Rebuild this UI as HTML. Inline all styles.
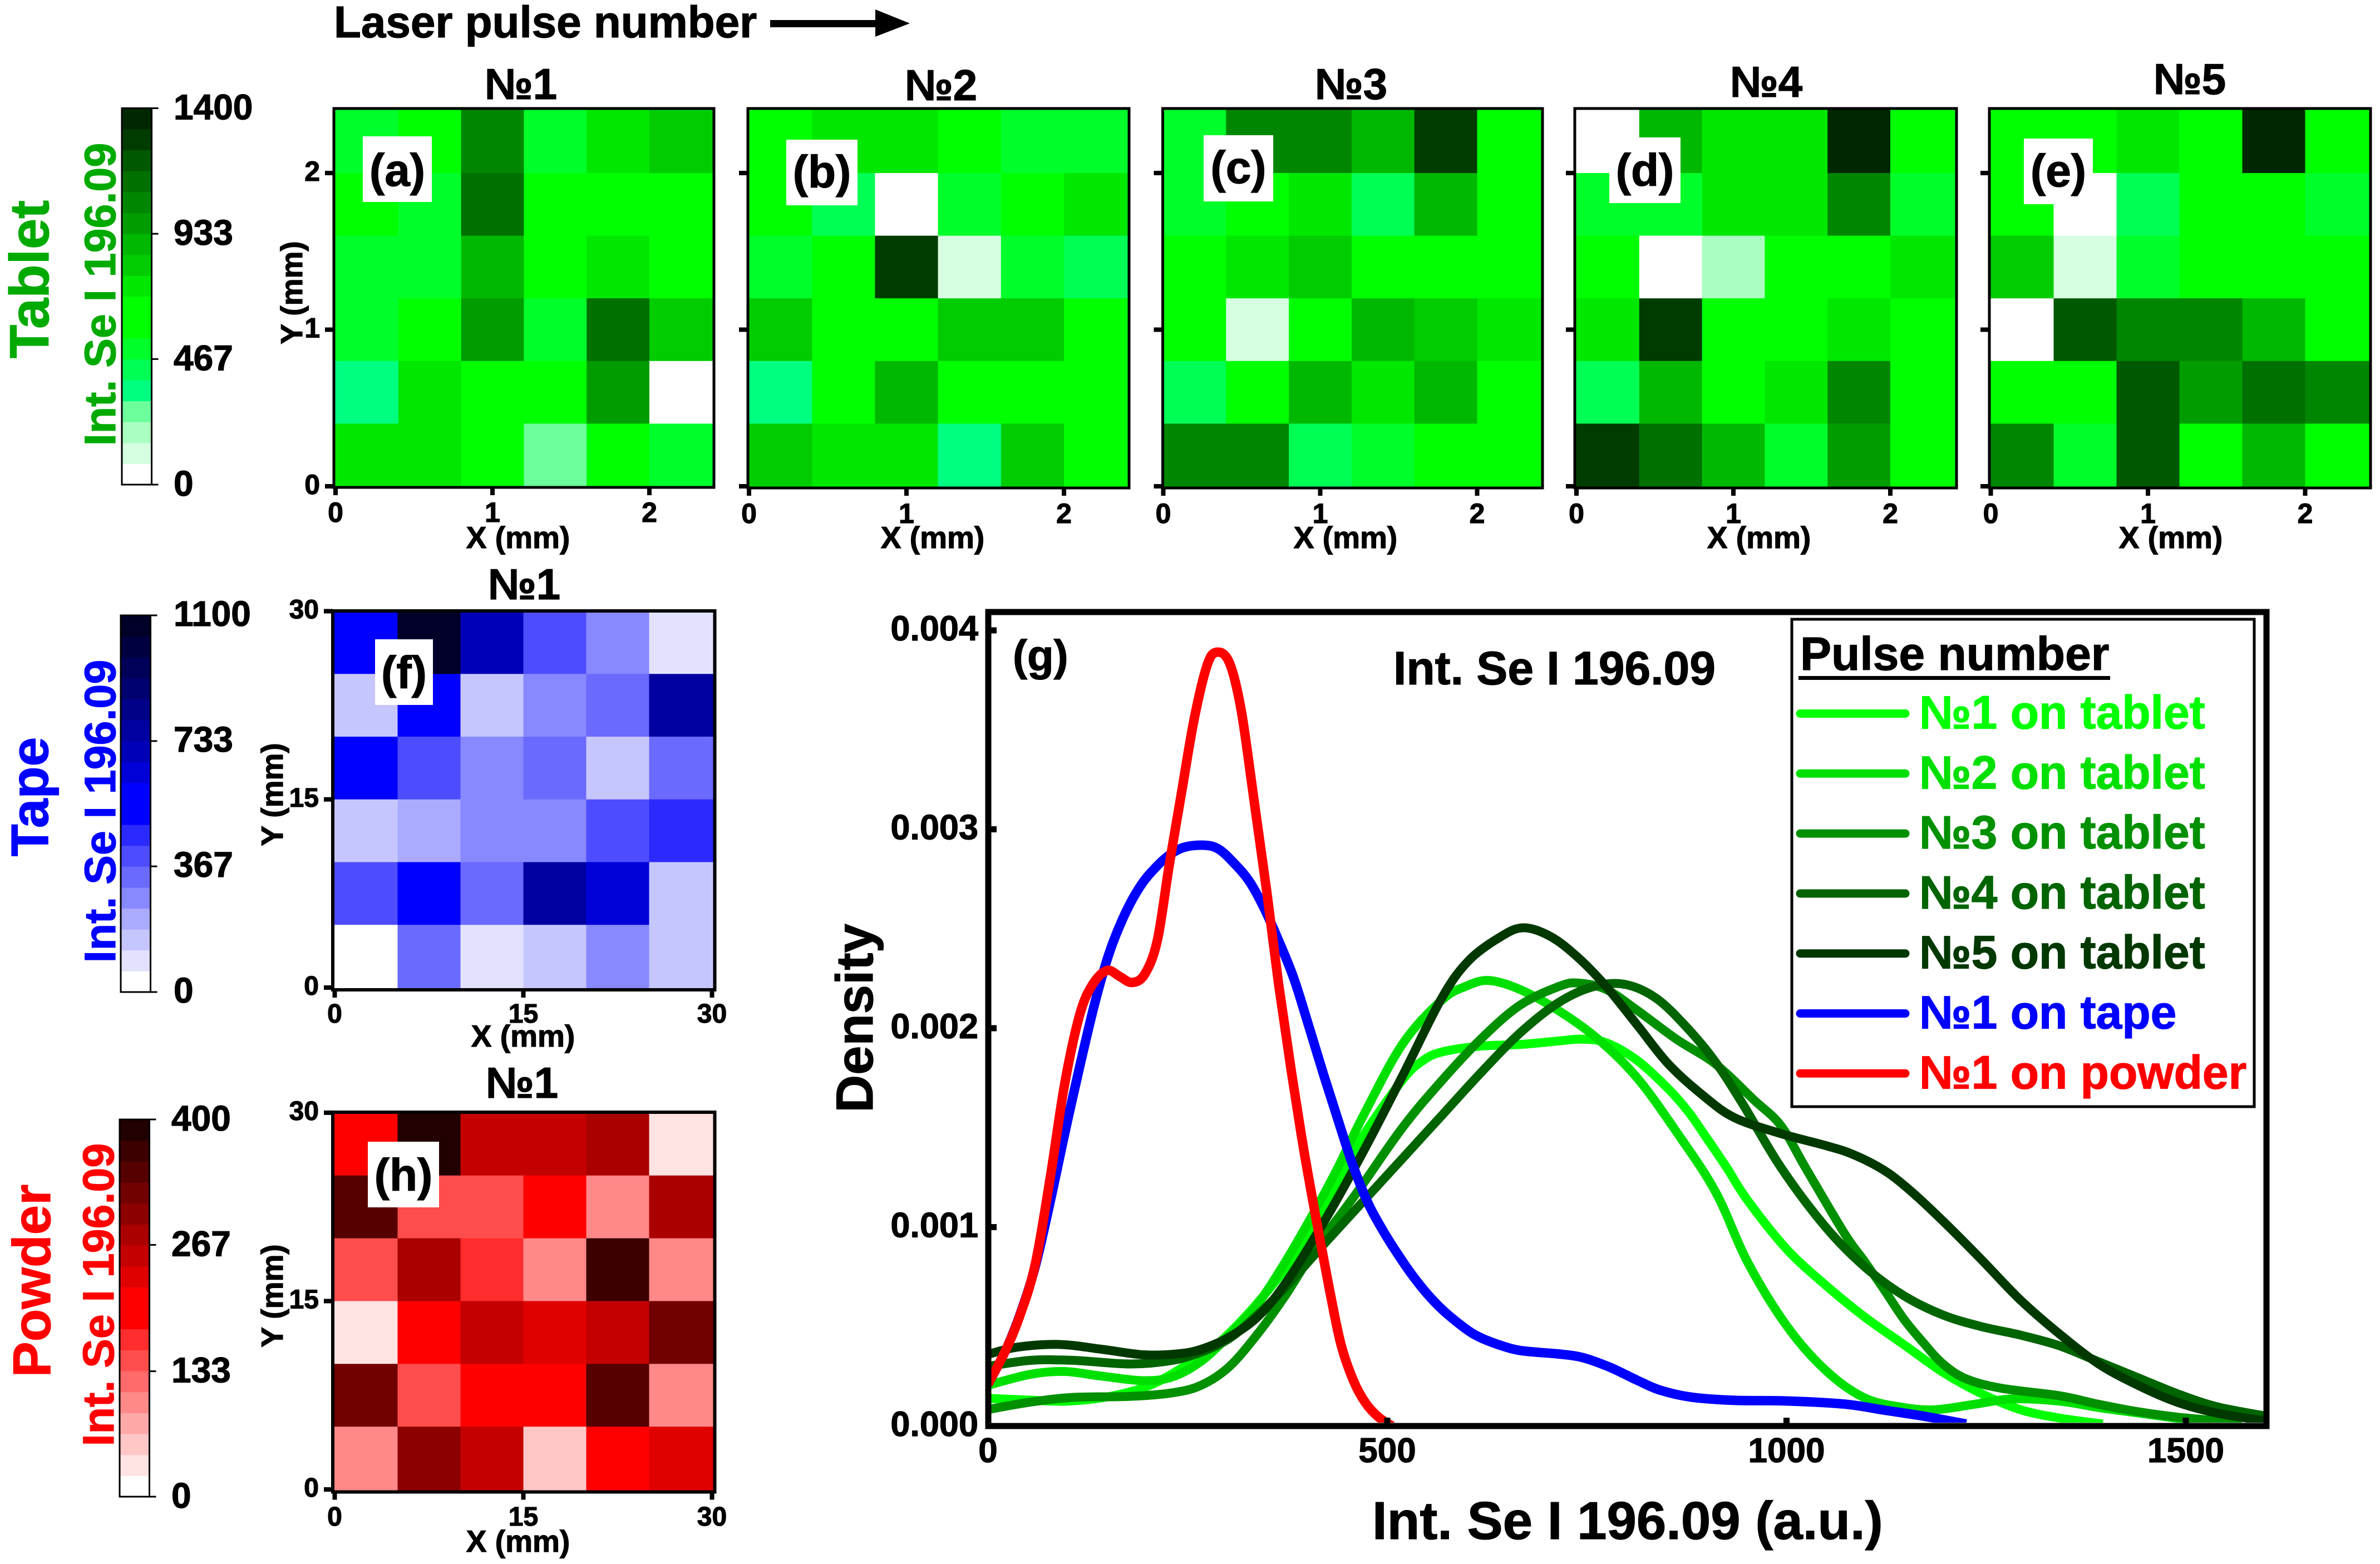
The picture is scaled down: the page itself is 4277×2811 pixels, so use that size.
<!DOCTYPE html>
<html lang="en">
<head>
<meta charset="utf-8">
<title>Int. Se I 196.09 maps and density</title>
<style>
html,body{margin:0;padding:0;background:#fff;}
svg{display:block;}
text{font-family:"Liberation Sans","DejaVu Sans",sans-serif;font-weight:bold;}
</style>
</head>
<body>
<svg id="figure" xmlns="http://www.w3.org/2000/svg" width="4277" height="2811" viewBox="0 0 4277 2811">
<rect x="0" y="0" width="4277" height="2811" fill="#ffffff"/>
<text x="600" y="67" font-size="80" fill="#000" stroke="#000" stroke-width="1.2">Laser pulse number</text>
<rect x="1384" y="36" width="192" height="13" fill="#000"/>
<polygon points="1573,17 1635,42 1573,66" fill="#000"/>
</svg>
<script>
// ---- Heatmap values (Int. Se I 196.09), top row first ----
const tabletMax = 1400, tapeMax = 1100, powderMax = 400;
const tablet1Cells = [
  [506,661,1050,506,739,817],
  [661,506,1128,583,661,661],
  [506,506,894,661,739,661],
  [506,661,972,506,1128,817],
  [350,739,661,661,972,39],
  [739,739,661,272,661,506]];
const tablet2Cells = [
  [661,739,739,661,506,506],
  [661,428,39,506,661,739],
  [506,661,1283,117,506,428],
  [817,661,661,817,817,661],
  [350,661,894,661,661,661],
  [817,739,739,350,817,661]];
const tablet3Cells = [
  [506,1050,1050,894,1283,661],
  [506,661,739,428,894,661],
  [661,739,817,661,661,661],
  [661,117,661,894,817,739],
  [428,661,894,739,894,661],
  [1050,1050,428,506,661,661]];
const tablet4Cells = [
  [39,894,739,739,1361,661],
  [506,506,739,739,1050,506],
  [661,39,194,661,661,739],
  [739,1283,661,661,739,661],
  [428,894,661,739,1050,661],
  [1283,1128,894,506,972,661]];
const tablet5Cells = [
  [661,661,739,661,1361,661],
  [661,39,428,661,661,506],
  [817,117,506,661,661,661],
  [39,1206,1050,1050,894,661],
  [661,661,1206,972,1128,1050],
  [1050,506,1206,661,894,661]];
const tapeCells = [
  [520,1070,703,397,275,92],
  [153,520,153,275,336,764],
  [520,397,275,336,153,336],
  [153,214,275,275,397,458],
  [397,520,336,764,642,153],
  [31,336,92,153,275,153]];
const powderCells = [
  [189,389,256,256,278,33],
  [344,144,144,189,100,278],
  [144,278,167,100,367,100],
  [33,189,256,233,256,322],
  [322,144,189,189,344,100],
  [100,300,256,56,189,233]];

// ---- Colour scales, lowest band first ----
const greenBands = ['#ffffff','#d5ffe0','#aaffc0','#6cff9c','#00ff80','#00ff55','#00ff2a','#00ff00','#00ff00','#00e800','#00cc00','#00b800','#009c00','#008600','#007000','#005800','#003c00','#002800'];
const blueBands = ['#ffffff','#e2e2ff','#c6c6ff','#aaaaff','#8888ff','#6a6aff','#4d4dff','#2a2aff','#0000ff','#0000ff','#0000d8','#0000b8','#0000a0','#000088','#000070','#000058','#000040','#000028'];
const redBands = ['#ffffff','#ffe2e2','#ffc6c6','#ffa8a8','#ff8888','#ff6a6a','#ff4d4d','#ff2d2d','#ff0000','#ff0000','#e00000','#c40000','#aa0000','#8c0000','#720000','#560000','#3c0000','#220000'];

// ---- Tick labels ----
const tabletBarTicks = [0,467,933,1400];
const tapeBarTicks = [0,367,733,1100];
const powderBarTicks = [0,133,267,400];
const tabletMapTicks = [0,1,2];
const wideMapTicks = [0,15,30];
const densityXTicks = [0,500,1000,1500];
const densityYTicks = [0,1,2,3,4]; // thousandths of density

// ---- Density curves: intensity (a.u.) and density in thousandths ----
const tablet1X = [0,53,100,153,203,249,284,320,356,391,426,444,470,519,544,568,617,666,715,744,774,813,852,878,902,925,951,1000,1049,1098,1147,1196,1244,1293,1342,1396];
const tablet1Y = [.139,.13,.125,.149,.205,.307,.40,.54,.708,.894,1.12,1.26,1.46,1.74,1.835,1.88,1.91,1.918,1.936,1.945,1.927,1.838,1.695,1.575,1.436,1.30,1.136,.89,.708,.548,.409,.27,.163,.082,.04,.01];
const tablet2X = [0,53,96,142,195,231,267,302,338,373,409,437,470,519,568,598,627,666,715,764,813,862,911,951,1000,1049,1098,1147,1186,1235,1283,1342,1391,1440,1499,1538,1570];
const tablet2Y = [.205,.26,.274,.251,.228,.247,.326,.456,.615,.83,1.08,1.29,1.56,1.92,2.14,2.21,2.24,2.195,2.087,1.945,1.75,1.48,1.178,.826,.505,.28,.141,.093,.082,.109,.136,.125,.093,.066,.034,.018,.005];
const tablet3X = [0,53,107,178,231,267,302,338,373,409,462,519,568,617,666,715,739,774,813,862,911,959,993,1024,1073,1098,1122,1147,1171,1196,1225,1269,1342,1391,1440,1489,1545,1570];
const tablet3Y = [.083,.12,.144,.149,.167,.205,.298,.465,.66,.885,1.174,1.50,1.735,1.945,2.115,2.21,2.227,2.195,2.09,1.945,1.82,1.64,1.51,1.297,.965,.826,.687,.537,.42,.312,.237,.19,.152,.109,.072,.045,.024,.01];
const tablet4X = [0,53,107,178,231,267,302,338,373,422,470,519,568,617,666,715,759,798,837,876,911,945,993,1049,1098,1147,1196,1244,1293,1342,1391,1440,1489,1538,1600];
const tablet4Y = [.30,.33,.33,.312,.33,.372,.44,.56,.70,.92,1.13,1.345,1.56,1.775,1.975,2.13,2.21,2.22,2.15,2.0,1.83,1.62,1.30,1.0,.80,.655,.558,.50,.457,.403,.323,.243,.163,.098,.05];
const tablet5X = [0,36,89,142,195,238,267,302,338,373,422,470,519,568,602,642,671,705,739,774,813,852,896,935,993,1049,1083,1122,1156,1196,1244,1293,1342,1391,1440,1489,1538,1600];
const tablet5Y = [.36,.396,.41,.386,.358,.363,.386,.447,.55,.72,1.035,1.38,1.76,2.15,2.34,2.46,2.505,2.46,2.355,2.21,2.016,1.82,1.66,1.55,1.47,1.41,1.366,1.286,1.18,1.03,.837,.633,.462,.312,.205,.12,.066,.025];
const tapeX = [0,22,40,59,78,96,115,134,152,171,190,208,227,246,271,289,308,327,345,364,383,401,420,439,457,476,495,513,532,551,569,588,607,625,650,666,690,715,744,779,813,842,881,935,1000,1073,1122,1171,1225];
const tapeY = [.21,.38,.56,.80,1.13,1.47,1.81,2.13,2.38,2.57,2.71,2.80,2.87,2.91,2.92,2.90,2.83,2.74,2.61,2.44,2.25,2.02,1.77,1.53,1.31,1.12,.98,.865,.755,.66,.585,.52,.465,.43,.395,.38,.37,.362,.345,.295,.23,.18,.145,.129,.126,.11,.08,.05,.01];
const powderX = [0,22,40,59,78,96,115,131,149,165,180,196,212,227,243,258,274,286,302,317,333,349,364,380,395,411,427,442,458,473,489,506];
const powderY = [.21,.38,.556,.81,1.25,1.72,2.07,2.22,2.29,2.26,2.23,2.27,2.44,2.82,3.2,3.55,3.82,3.89,3.84,3.6,3.15,2.69,2.22,1.78,1.40,1.04,.70,.41,.225,.115,.045,0];
const seriesNames = ['№1 on tablet','№2 on tablet','№3 on tablet','№4 on tablet','№5 on tablet','№1 on tape','№1 on powder'];

// ---- Drawing ----
const NS = 'http://www.w3.org/2000/svg';
const fig = document.getElementById('figure');

function mk(tag, attrs, parent) {
  const el = document.createElementNS(NS, tag);
  for (const k in attrs) el.setAttribute(k, attrs[k]);
  (parent || fig).appendChild(el);
  return el;
}
function txt(str, x, y, size, fill, anchor, rotate) {
  const a = {x: x, y: y, 'font-size': size, fill: fill || '#000', stroke: fill || '#000', 'stroke-width': 1.2, 'text-anchor': anchor || 'start'};
  if (rotate) a.transform = 'rotate(-90 ' + x + ' ' + y + ')';
  const el = mk('text', a);
  el.textContent = str;
  return el;
}
function bandColor(bands, max, v) {
  const i = Math.max(0, Math.min(bands.length - 1, Math.floor(v / max * bands.length)));
  return bands[i];
}

function drawColorbar(o) {
  const yOf = v => o.bottom - v / o.max * (o.bottom - o.top);
  o.bands.forEach((c, i) => {
    const step = o.max / o.bands.length;
    const r = mk('rect', {x: o.left, y: yOf((i + 1) * step), width: o.right - o.left, height: yOf(i * step) - yOf((i + 1) * step) + 0.5, fill: c});
    
    
  });
  const f = mk('rect', {x: o.left, y: o.top, width: o.right - o.left, height: o.bottom - o.top, fill: 'none', stroke: '#000', 'stroke-width': 3});
  
  
  o.ticks.forEach(v => {
    const l = mk('line', {x1: o.right, x2: o.right + 12, y1: yOf(v), y2: yOf(v), stroke: '#000', 'stroke-width': 3});
    
    
    const t = txt(String(v), o.labelX, yOf(v) + o.labelDy, 64);
    
    
  });
  const n = txt(o.name, o.nameX, o.nameY, o.nameSize, o.color, 'middle', true);
  
  
  const a = txt('Int. Se I 196.09', o.axisX, o.axisY, 79, o.color, 'middle', true);
  
  
}

function drawMap(p) {
  const X = v => p.xZero + v * p.xUnit;
  const Y = v => p.yZero - v * p.yUnit;
  const rows = p.cells.length, cols = p.cells[0].length;
  const dx = p.span / cols, dy = p.span / rows;
  p.cells.forEach((row, j) => {
    row.forEach((v, i) => {
      const x1 = i === 0 ? p.l : X(i * dx);
      const x2 = i === cols - 1 ? p.r : X((i + 1) * dx);
      const y1 = j === 0 ? p.t : Y(p.span - j * dy);
      const y2 = j === rows - 1 ? p.b : Y(p.span - (j + 1) * dy);
      const r = mk('rect', {x: x1, y: y1, width: x2 - x1 + 0.5, height: y2 - y1 + 0.5, fill: bandColor(p.bands, p.max, v)});
      
      
    });
  });
  const fr = mk('rect', {x: p.l, y: p.t, width: p.r - p.l, height: p.b - p.t, fill: 'none', stroke: '#000', 'stroke-width': p.sw});
  
  
  p.ticks.forEach(v => {
    const tx = mk('rect', {x: X(v) - 4, y: p.b, width: 8, height: 14, fill: '#000'});
    
    
    const lx = txt(String(v), X(v), p.xLabelY, p.tickSize, '#000', 'middle');
    
    
    const ty = mk('rect', {x: p.l - 16, y: Y(v) - 4, width: 16, height: 8, fill: '#000'});
    
    
    if (p.yLabels) {
      const ly = txt(String(v), p.yLabelX, Y(v) + p.yLabelDy, p.tickSize, '#000', 'end');
      
      
    }
  });
  const tt = txt(p.title, p.titleX, p.titleY, 78, '#000', 'middle');
  
  
  const xt = txt('X (mm)', p.xTitleX, p.xTitleY, 55, '#000', 'middle');
  
  
  if (p.yTitleX) {
    const yt = txt('Y (mm)', p.yTitleX, p.yTitleY, 55, '#000', 'middle', true);
    
    
  }
  const bx = mk('rect', {x: p.boxL, y: p.boxT, width: p.boxR - p.boxL, height: p.boxB - p.boxT, fill: '#fff'});
  
  
  const lt = txt(p.letter, (p.boxL + p.boxR) / 2, p.letterY, 82, '#000', 'middle');
  
  
}

// Colour bars
drawColorbar({id:'tablet', bands:greenBands, max:tabletMax, ticks:tabletBarTicks, left:219, right:272.5, top:194.5, bottom:871, labelX:312, labelDy:20, name:'Tablet', nameX:87, nameY:502, nameSize:99, axisX:207, axisY:529, color:'#00aa00'});
drawColorbar({id:'tape', bands:blueBands, max:tapeMax, ticks:tapeBarTicks, left:217, right:270.5, top:1106, bottom:1783, labelX:312, labelDy:19, name:'Tape', nameX:86, nameY:1432, nameSize:95, axisX:207, axisY:1458, color:'#0000ff'});
drawColorbar({id:'powder', bands:redBands, max:powderMax, ticks:powderBarTicks, left:215, right:268.5, top:2012, bottom:2690, labelX:308, labelDy:20, name:'Powder', nameX:90, nameY:2302, nameSize:96, axisX:204, axisY:2327, color:'#ff0000'});

// Tablet maps
drawMap({id:'map-a', cells:tablet1Cells, bands:greenBands, max:tabletMax, ticks:tabletMapTicks, span:2.4, xZero:603, xUnit:282, yZero:874, yUnit:281.5, l:600, r:1283, t:195, b:876, sw:5, tickSize:50, xLabelY:938, yLabels:true, yLabelX:575, yLabelDy:14, title:'№1', titleX:936, titleY:178, xTitleX:931, xTitleY:985, yTitleX:543, yTitleY:526, boxL:652, boxR:776, boxT:245, boxB:363, letter:'(a)', letterY:334});
drawMap({id:'map-b', cells:tablet2Cells, bands:greenBands, max:tabletMax, ticks:tabletMapTicks, span:2.4, xZero:1346, xUnit:283, yZero:874, yUnit:281.5, l:1344, r:2029, t:195, b:877, sw:5, tickSize:50, xLabelY:940, title:'№2', titleX:1691, titleY:180, xTitleX:1676, xTitleY:985, boxL:1413, boxR:1541, boxT:251, boxB:369, letter:'(b)', letterY:337});
drawMap({id:'map-c', cells:tablet3Cells, bands:greenBands, max:tabletMax, ticks:tabletMapTicks, span:2.4, xZero:2090.5, xUnit:282, yZero:874, yUnit:281.5, l:2089.5, r:2772, t:195, b:877, sw:5, tickSize:50, xLabelY:940, title:'№3', titleX:2428, titleY:178, xTitleX:2418, xTitleY:985, boxL:2163, boxR:2288, boxT:243, boxB:362, letter:'(c)', letterY:329});
drawMap({id:'map-d', cells:tablet4Cells, bands:greenBands, max:tabletMax, ticks:tabletMapTicks, span:2.4, xZero:2833, xUnit:282, yZero:874, yUnit:281.5, l:2830, r:3516, t:195, b:877, sw:5, tickSize:50, xLabelY:940, title:'№4', titleX:3174, titleY:174, xTitleX:3161, xTitleY:985, boxL:2892, boxR:3020, boxT:247, boxB:365, letter:'(d)', letterY:334});
drawMap({id:'map-e', cells:tablet5Cells, bands:greenBands, max:tabletMax, ticks:tabletMapTicks, span:2.4, xZero:3577.5, xUnit:282.5, yZero:874, yUnit:281.5, l:3575, r:4260, t:195, b:877, sw:5, tickSize:50, xLabelY:940, title:'№5', titleX:3935, titleY:169, xTitleX:3901, xTitleY:985, boxL:3637, boxR:3761, boxT:249, boxB:367, letter:'(e)', letterY:335});

// Tape and powder maps
drawMap({id:'map-f', cells:tapeCells, bands:blueBands, max:tapeMax, ticks:wideMapTicks, span:30, xZero:601.5, xUnit:22.6, yZero:1775, yUnit:22.55, l:598, r:1284.5, t:1098, b:1779, sw:6, tickSize:48, xLabelY:1838, yLabels:true, yLabelX:573, yLabelDy:13, title:'№1', titleX:942, titleY:1077, xTitleX:940, xTitleY:1881, yTitleX:508, yTitleY:1428, boxL:674, boxR:778, boxT:1149, boxB:1267, letter:'(f)', letterY:1237});
drawMap({id:'map-h', cells:powderCells, bands:redBands, max:powderMax, ticks:wideMapTicks, span:30, xZero:601.5, xUnit:22.6, yZero:2677, yUnit:22.57, l:598, r:1284.5, t:1999, b:2681.5, sw:6, tickSize:48, xLabelY:2742, yLabels:true, yLabelX:573, yLabelDy:13, title:'№1', titleX:938, titleY:1973, xTitleX:931, xTitleY:2789, yTitleX:508, yTitleY:2329, boxL:661, boxR:789, boxT:2052, boxB:2170, letter:'(h)', letterY:2140});

// Density panel (g)
const gX = v => 1775.5 + v * 1.435;
const gY = d => 2563 - d * 357.5;
const defs = mk('defs', {});
const clip = mk('clipPath', {id: 'g-clip'}, defs);
mk('rect', {x: 1781, y: 1105, width: 2287, height: 1452}, clip);

function smoothPath(xs, ys) {
  const pts = xs.map((v, i) => [gX(v), gY(ys[i])]);
  let d = 'M' + pts[0][0].toFixed(1) + ' ' + pts[0][1].toFixed(1);
  for (let i = 0; i < pts.length - 1; i++) {
    const p0 = pts[Math.max(i - 1, 0)], p1 = pts[i], p2 = pts[i + 1], p3 = pts[Math.min(i + 2, pts.length - 1)];
    const c1x = p1[0] + (p2[0] - p0[0]) / 6, c1y = p1[1] + (p2[1] - p0[1]) / 6;
    const c2x = p2[0] - (p3[0] - p1[0]) / 6, c2y = p2[1] - (p3[1] - p1[1]) / 6;
    d += 'C' + c1x.toFixed(1) + ' ' + c1y.toFixed(1) + ' ' + c2x.toFixed(1) + ' ' + c2y.toFixed(1) + ' ' + p2[0].toFixed(1) + ' ' + p2[1].toFixed(1);
  }
  return d;
}
const seriesColors = ['#00ff00','#00e000','#009000','#006400','#003800','#0000ff','#ff0000'];
const seriesStrokes = [16,16,16,16,16,17,17];
const seriesXs = [tablet1X, tablet2X, tablet3X, tablet4X, tablet5X, tapeX, powderX];
const seriesYs = [tablet1Y, tablet2Y, tablet3Y, tablet4Y, tablet5Y, tapeY, powderY];
const curveGroup = mk('g', {'clip-path': 'url(#g-clip)'});


seriesNames.forEach((name, i) => {
  const c = mk('path', {d: smoothPath(seriesXs[i], seriesYs[i]), fill: 'none', stroke: seriesColors[i], 'stroke-width': seriesStrokes[i], 'stroke-linejoin': 'round'}, curveGroup);
  
  
});
const gFrame = mk('rect', {x: 1776, y: 1100, width: 2297, height: 1463, fill: 'none', stroke: '#000', 'stroke-width': 11});


densityXTicks.forEach(v => {
  if (v > 0) {
    const t = mk('rect', {x: gX(v) - 5.5, y: 2548, width: 11, height: 12, fill: '#000'});
    
    
  }
  const l = txt(String(v), gX(v), 2628, 62, '#000', 'middle');
  
  
});
densityYTicks.forEach(v => {
  if (v > 0) {
    const t = mk('rect', {x: 1781, y: gY(v) - 5.5, width: 10, height: 11, fill: '#000'});
    
    
  }
  const l = txt((v / 1000).toFixed(3), 1758, gY(v) + 18, 63, '#000', 'end');
  
  
});
const gLetter = txt('(g)', 1820, 1205, 78);


const gInner = txt('Int. Se I 196.09', 2504, 1230, 84);


const gXTitle = txt('Int. Se I 196.09 (a.u.)', 2466, 2766, 96);


const gYTitle = txt('Density', 1568, 1830, 94, '#000', 'middle', true);



// Legend
const legBox = mk('rect', {x: 3220, y: 1113, width: 831, height: 876, fill: '#fff', stroke: '#000', 'stroke-width': 5});


const legTitle = txt('Pulse number', 3235, 1204, 84);


const legRule = mk('rect', {x: 3232, y: 1215, width: 560, height: 7, fill: '#000'});


seriesNames.forEach((name, i) => {
  const rowY = 1282.5 + i * 107.8;
  const ln = mk('line', {x1: 3235, x2: 3424, y1: rowY, y2: rowY, stroke: seriesColors[i], 'stroke-width': 15, 'stroke-linecap': 'round'});
  
  
  const lb = txt(name, 3449, rowY + 27, 84, seriesColors[i]);
  
  
});
</script>
</body>
</html>
